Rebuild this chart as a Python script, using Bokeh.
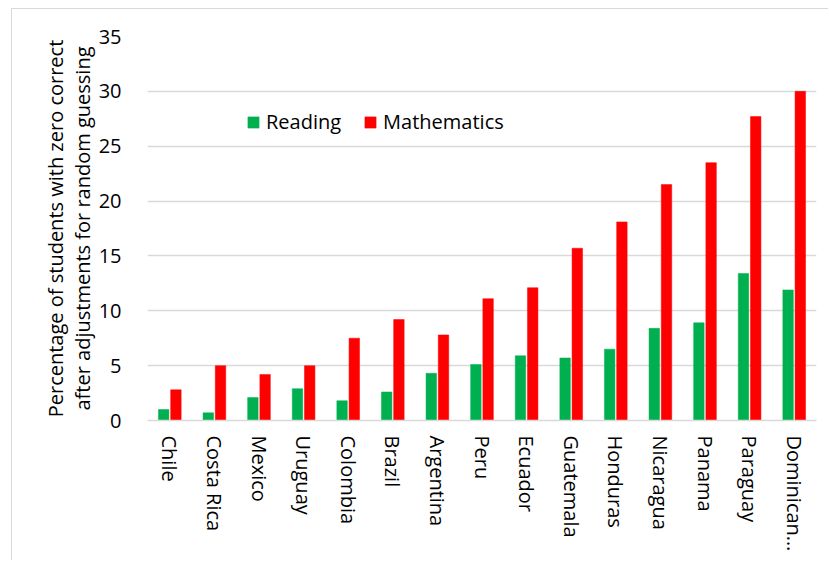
import math
from bokeh.plotting import figure
from bokeh.models import ColumnDataSource, FactorRange, Range1d, Legend, LegendItem
from bokeh.transform import dodge
from bokeh.embed import file_html
from bokeh.resources import INLINE

countries = ["Chile", "Costa Rica", "Mexico", "Uruguay", "Colombia", "Brazil", "Argentina",
             "Peru", "Ecuador", "Guatemala", "Honduras", "Nicaragua", "Panama", "Paraguay",
             "Dominican\u2026"]
reading = [1.0, 0.7, 2.1, 2.9, 1.8, 2.6, 4.3, 5.1, 5.9, 5.7, 6.5, 8.4, 8.9, 13.4, 11.9]
mathematics = [2.8, 5.0, 4.2, 5.0, 7.5, 9.2, 7.8, 11.1, 12.1, 15.7, 18.1, 21.5, 23.5, 27.7, 30.0]
series_names = ["Reading", "Mathematics"]
y_ticks = [0, 5, 10, 15, 20, 25, 30, 35]
y_title = "Percentage of students with zero correct\nafter adjustments for random guessing"

GREEN = "#00B050"
RED = "#FF0000"
GRID = "#D9D9D9"
FONT = "Open Sans"
FS = "20px"

source = ColumnDataSource(dict(country=countries, reading=reading, mathematics=mathematics))

p = figure(
    x_range=FactorRange(*countries, range_padding=0),
    y_range=Range1d(0, 35),
    width=817, height=552,
    output_backend="svg", toolbar_location=None,
    min_border_left=135, min_border_right=13, min_border_top=27, min_border_bottom=141,
    margin=(8, 0, 0, 11),
    styles={"border-top": "1px solid #D9D9D9", "border-left": "1px solid #D9D9D9"},
)
p.outline_line_color = None
p.background_fill_color = "white"
p.border_fill_color = "white"

r1 = p.vbar(x=dodge("country", -0.137, range=p.x_range), top="reading", width=0.235,
            source=source, fill_color=GREEN, line_color=GREEN, line_width=0.5)
r2 = p.vbar(x=dodge("country", 0.137, range=p.x_range), top="mathematics", width=0.235,
            source=source, fill_color=RED, line_color=RED, line_width=0.5)

# grid
p.xgrid.grid_line_color = None
p.ygrid.grid_line_color = GRID
p.ygrid.grid_line_width = 1.5
p.yaxis.ticker = y_ticks

# y axis
p.yaxis.axis_line_color = None
p.yaxis.major_tick_line_color = None
p.yaxis.minor_tick_line_color = None
p.yaxis.major_label_standoff = 20
p.yaxis.major_label_text_font = FONT
p.yaxis.major_label_text_font_size = FS
p.yaxis.major_label_text_color = "#000000"
p.yaxis.axis_label = y_title
p.yaxis.axis_label_text_font = FONT
p.yaxis.axis_label_text_font_size = FS
p.yaxis.axis_label_text_font_style = "normal"
p.yaxis.axis_label_text_color = "#000000"
p.yaxis.axis_label_text_line_height = 1.0
p.yaxis.axis_label_standoff = 0

# x axis
p.xaxis.axis_line_color = GRID
p.xaxis.axis_line_width = 1.5
p.xaxis.major_tick_line_color = None
p.xaxis.minor_tick_line_color = None
p.xaxis.major_label_orientation = -math.pi / 2
p.xaxis.major_label_standoff = 9
p.xaxis.major_label_text_font = FONT
p.xaxis.major_label_text_font_size = FS
p.xaxis.major_label_text_color = "#000000"

legend = Legend(items=[LegendItem(label=series_names[0], renderers=[r1]),
                       LegendItem(label=series_names[1], renderers=[r2])],
                orientation="horizontal", location=(99, 285))
legend.padding = 0
legend.margin = 0
legend.spacing = 22
legend.glyph_width = 14
legend.glyph_height = 14
legend.label_standoff = 6
legend.label_height = 22
legend.label_text_font = FONT
legend.label_text_font_size = FS
legend.label_text_color = "#000000"
legend.border_line_color = None
legend.background_fill_alpha = 0
p.add_layout(legend, "center")

open("out.html", "w").write(file_html(p, INLINE))
